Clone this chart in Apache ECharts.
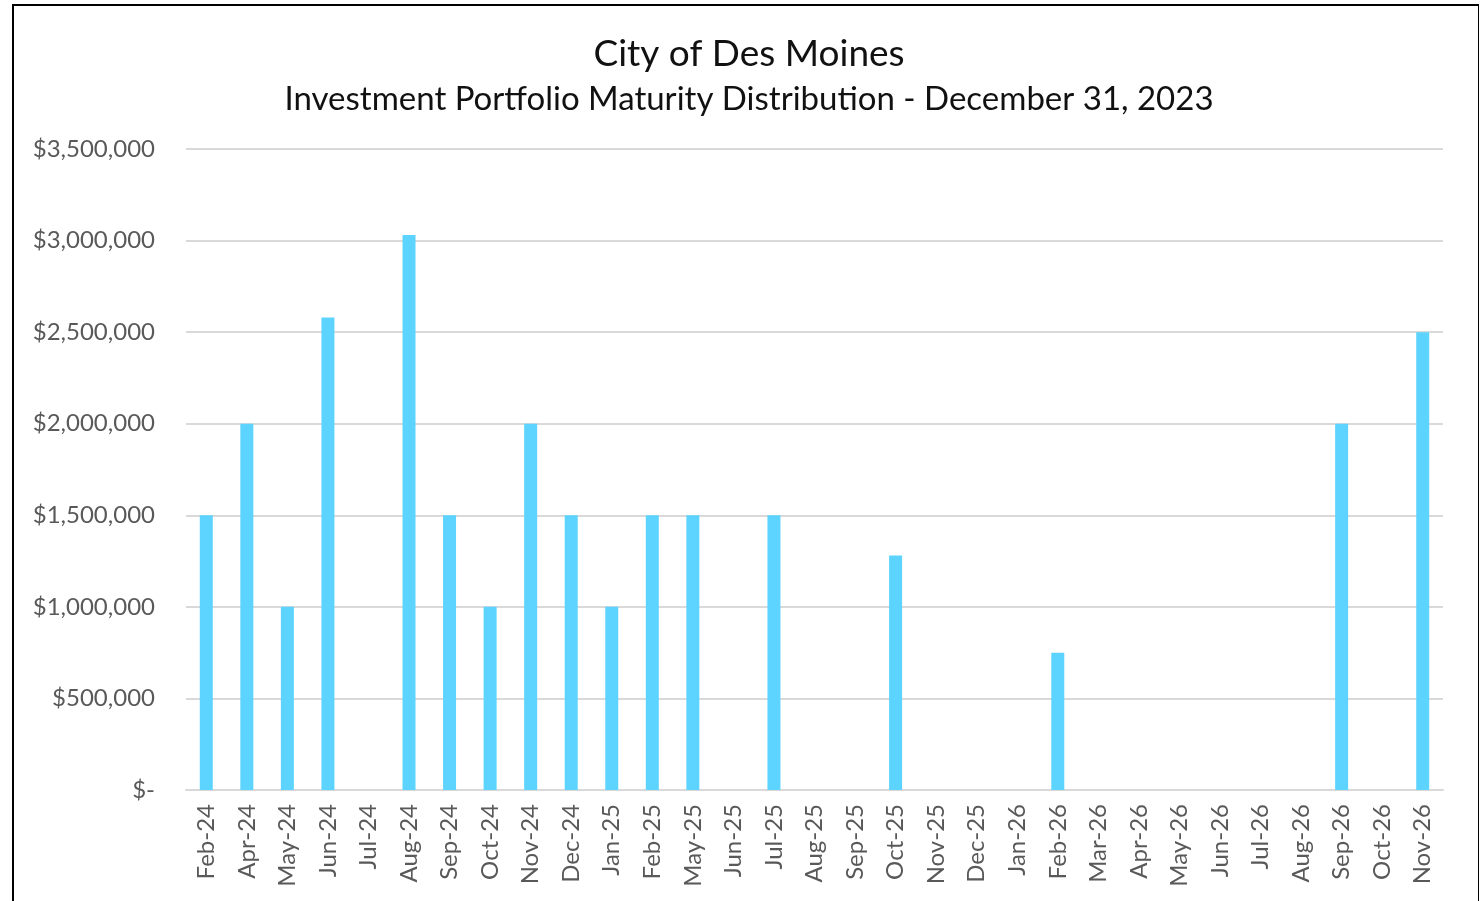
<!DOCTYPE html>
<html>
<head>
<meta charset="utf-8">
<title>City of Des Moines</title>
<script src="https://cdn.jsdelivr.net/npm/echarts@6/dist/echarts.min.js"></script>
<style>
    html, body { margin: 0; padding: 0; background: #fff; overflow: hidden; }
    #main { position: absolute; left: 0; top: 0; width: 1483px; height: 901px; }
    #frame { position: absolute; left: 12px; top: 4px; width: 1464px; height: 940px;
             border: 2px solid #000; border-right-width: 1px; pointer-events: none; }
</style>
</head>
<body>
<div id="main"></div>
<div id="frame"></div>
<script>
var months = ['Feb-24', 'Apr-24', 'May-24', 'Jun-24', 'Jul-24', 'Aug-24', 'Sep-24', 'Oct-24',
    'Nov-24', 'Dec-24', 'Jan-25', 'Feb-25', 'May-25', 'Jun-25', 'Jul-25', 'Aug-25', 'Sep-25',
    'Oct-25', 'Nov-25', 'Dec-25', 'Jan-26', 'Feb-26', 'Mar-26', 'Apr-26', 'May-26', 'Jun-26',
    'Jul-26', 'Aug-26', 'Sep-26', 'Oct-26', 'Nov-26'];
var amounts = [1500000, 2000000, 1000000, 2580000, 0, 3030000, 1500000, 1000000,
    2000000, 1500000, 1000000, 1500000, 1500000, 0, 1500000, 0, 0,
    1280000, 0, 0, 0, 750000, 0, 0, 0, 0,
    0, 0, 2000000, 0, 2500000];
var yTicks = [0, 500000, 1000000, 1500000, 2000000, 2500000, 3000000, 3500000];

var titleText = 'City of Des Moines';
var subText = 'Investment Portfolio Maturity Distribution - December 31, 2023';

function money(v) {
    if (v === 0) return '$-';
    return '$' + v.toString().replace(/\B(?=(\d{3})+(?!\d))/g, ',');
}

var myChart = echarts.init(document.getElementById('main'));

var option = {
    animation: false,
    title: [{
        text: titleText,
        left: 744,
        top: 31,
        textAlign: 'center',
        textStyle: { fontFamily: 'Lato', fontSize: 37, fontWeight: 'normal', color: '#111' }
    }, {
        text: subText,
        left: 744,
        top: 78,
        textAlign: 'center',
        textStyle: { fontFamily: 'Lato', fontSize: 33, fontWeight: 'normal', color: '#111' }
    }],
    grid: { left: 186, right: 40, top: 149, bottom: 111 },
    xAxis: {
        type: 'category',
        data: months,
        axisTick: { show: false },
        axisLine: { lineStyle: { color: '#d9d9d9', width: 2 } },
        axisLabel: {
            rotate: 90,
            interval: 0,
            margin: 14,
            color: '#595959',
            fontFamily: 'Lato',
            fontSize: 24
        }
    },
    yAxis: {
        type: 'value',
        min: yTicks[0],
        max: yTicks[yTicks.length - 1],
        interval: yTicks[1] - yTicks[0],
        axisLine: { show: false },
        axisTick: { show: false },
        splitLine: { lineStyle: { color: '#d9d9d9', width: 2 } },
        axisLabel: {
            margin: 31,
            color: '#595959',
            fontFamily: 'Lato',
            fontSize: 24,
            formatter: money
        }
    },
    series: [{
        type: 'bar',
        data: amounts,
        barWidth: 13,
        itemStyle: { color: '#5dd4ff' }
    }]
};

myChart.setOption(option);
</script>
</body>
</html>
